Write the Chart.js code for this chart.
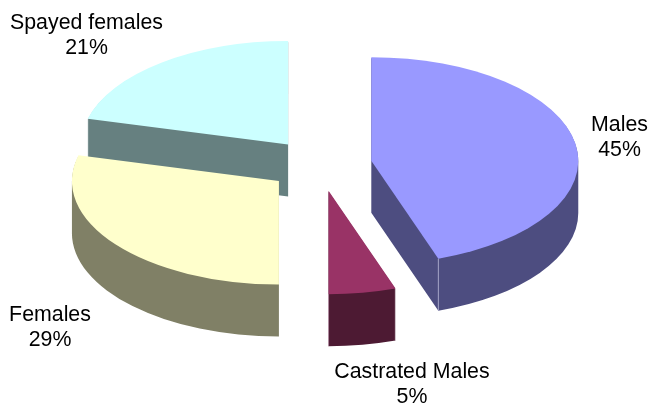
<!DOCTYPE html>
<html>
<head>
<meta charset="utf-8">
<style>
html,body{margin:0;padding:0;background:#fff;}
#wrap{width:650px;height:403px;position:relative;overflow:hidden;}
</style>
<script src="https://cdn.jsdelivr.net/npm/chart.js@4/dist/chart.umd.min.js"></script>
</head>
<body>
<div id="wrap"><canvas id="c" width="650" height="403"></canvas></div>
<script>
const categories = ['Males', 'Castrated Males', 'Females', 'Spayed females'];
const shares = [44.75, 5.25, 29, 21];
const topColors = ['#9999FF', '#993366', '#FFFFCC', '#CCFFFF'];
const sideColors = ['#4D4D80', '#4D1A33', '#808066', '#668080'];
const seamColors = ['#A6A6C8', '#B08CA0', null, null];

const SQUASH = 0.5, DEPTH = 52, EXPLODE = 52;
const paintOrder = [3, 2, 0, 1];
const labelCenters = [[619.5, 125.5], [412, 372.5], [50, 315.5], [86.5, 23.5]];
const LINE = 25;

function placed(ctx, arc) {
  const {x, y, startAngle, endAngle} = arc;
  const mid = (startAngle + endAngle) / 2;
  ctx.translate(x, y);
  ctx.scale(1, SQUASH);
  ctx.translate(-x, -y);
  ctx.translate(Math.cos(mid) * EXPLODE, Math.sin(mid) * EXPLODE);
}

const pie3d = {
  id: 'pie3d',
  beforeDatasetsDraw(chart) {
    const ctx = chart.ctx;
    const arcs = chart.getDatasetMeta(0).data;
    paintOrder.forEach(i => {
      const arc = arcs[i];
      ctx.save();
      placed(ctx, arc);
      ctx.fillStyle = sideColors[i];
      ctx.beginPath();
      for (let d = DEPTH; d >= 1; d--) {
        const oy = arc.y + d / SQUASH;
        ctx.moveTo(arc.x, oy);
        ctx.arc(arc.x, oy, arc.outerRadius, arc.startAngle, arc.endAngle);
        ctx.closePath();
      }
      ctx.fill('nonzero');
      if (seamColors[i]) {
        const ex = arc.x + Math.cos(arc.endAngle) * arc.outerRadius;
        const ey = arc.y + Math.sin(arc.endAngle) * arc.outerRadius;
        ctx.beginPath();
        ctx.moveTo(ex, ey);
        ctx.lineTo(ex, ey + DEPTH / SQUASH);
        ctx.restore();
        ctx.save();
        ctx.strokeStyle = seamColors[i];
        ctx.lineWidth = 1;
        ctx.stroke();
      }
      ctx.restore();
    });
    paintOrder.forEach(i => {
      ctx.save();
      placed(ctx, arcs[i]);
      arcs[i].draw(ctx);
      ctx.restore();
    });
    return false;
  },
  afterDraw(chart) {
    const ctx = chart.ctx;
    ctx.save();
    ctx.fillStyle = '#000';
    ctx.font = '21.33px "Liberation Sans", Arial, sans-serif';
    ctx.textAlign = 'center';
    ctx.textBaseline = 'middle';
    const total = shares.reduce((a, b) => a + b, 0);
    categories.forEach((name, i) => {
      const [x, y] = labelCenters[i];
      ctx.fillText(name, x, y);
      ctx.fillText(Math.round(shares[i] / total * 100) + '%', x, y + LINE);
    });
    ctx.restore();
  }
};

new Chart(document.getElementById('c'), {
  type: 'pie',
  data: {
    labels: categories,
    datasets: [{
      data: shares,
      backgroundColor: topColors,
      borderWidth: 0,
      hoverOffset: 0
    }]
  },
  options: {
    responsive: false,
    animation: false,
    radius: 207,
    layout: {padding: {left: 0, right: 10, top: 0, bottom: 73}},
    plugins: {legend: {display: false}, tooltip: {enabled: false}}
  },
  plugins: [pie3d]
});
</script>
</body>
</html>
